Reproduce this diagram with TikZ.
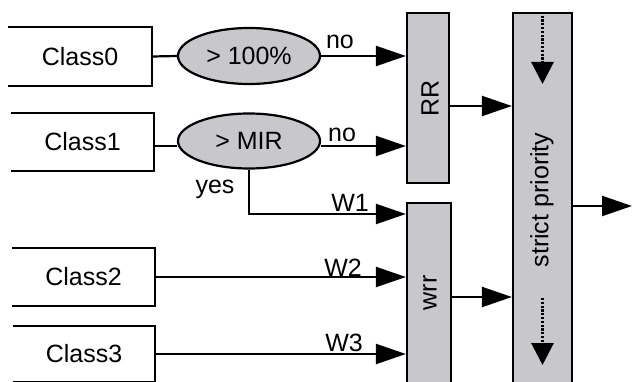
\documentclass[tikz,border=0pt]{standalone}
\usepackage{fontspec}
\setmainfont{Liberation Sans}
\usetikzlibrary{arrows.meta,shapes.geometric}
\definecolor{boxgray}{RGB}{200,199,204}
\begin{document}
\begin{tikzpicture}[x=1pt,y=-1pt,
  every node/.style={font=\fontsize{25}{29}\selectfont, inner sep=0pt},
  line/.style={line width=2.2pt},
  arr/.style={line width=2.2pt, -{Triangle[length=30pt,width=20pt]}},
  dotarr/.style={line width=3pt, dash pattern=on 2.2pt off 1.6pt, -{Triangle[length=22pt,width=22pt]}},
  cls/.style={minimum height=58pt},
  cond/.style={ellipse, draw, fill=boxgray, line width=2.2pt, minimum width=142pt, minimum height=56pt},
  grbox/.style={draw, fill=boxgray, line width=2.2pt}
]
\useasboundingbox (0,0) rectangle (632,382);
\clip (0,0) rectangle (632,382);
% class boxes (open on the left)
\node[cls, minimum width=144pt] (c0) at (80,56.5) {Class0};
\node[cls, minimum width=143pt] (c1) at (82.5,142) {Class1};
\node[cls, minimum width=143pt] (c2) at (83.5,277) {Class2};
\node[cls, minimum width=142pt, minimum height=56pt] (c3) at (84,354) {Class3};
\foreach \c in {c0,c1,c2,c3}
  \draw[line] (\c.north west) -- (\c.north east) -- (\c.south east) -- (\c.south west);
% conditions
\node[cond] (e0) at (249,56) {> 100\%};
\node[cond, minimum height=55pt] (e1) at (249,141) {> MIR};
% schedulers
\node[grbox, minimum width=42pt, minimum height=170pt] (rr) at (428,98) {};
\node[rotate=90] (rrt) at (430,98) {RR};
\node[grbox, minimum width=44pt, minimum height=197pt] (wrr) at (429,301.5) {};
\node[rotate=90] (wrrt) at (430,293) {wrr};
\node[grbox, minimum width=59pt, minimum height=387pt] (sp) at (542.5,206.5) {};
\node[rotate=90] (spt) at (542,200) {strict priority};
% helper coordinates
\coordinate (y1) at (0,214);
\coordinate (y106) at (0,106);
\coordinate (y146) at (0,146);
\coordinate (y297) at (0,297);
\coordinate (out) at (632,206);
\coordinate (d1) at (542.5,84);
\coordinate (d2a) at (542.5,298);
\coordinate (d2b) at (542.5,365);
% connectors
\draw[line] (c0.east) -- (e0.west);
\draw[line] (c1.east |- y146) -- (e1.west |- y146);
\draw[arr] (e0.east) -- (e0.east -| rr.west);
\draw[arr] (e1.east |- y146) -- (rr.west |- y146);
\draw[arr] (e1.south) |- (wrr.west |- y1);
\draw[arr] (c2.east) -- (c2.east -| wrr.west);
\draw[arr] (c3.east) -- (c3.east -| wrr.west);
\draw[arr] (rr.east |- y106) -- (sp.west |- y106);
\draw[arr] (wrr.east |- y297) -- (sp.west |- y297);
\draw[arr] (sp.east |- out) -- (out);
\draw[dotarr] (sp.north) -- (d1);
\draw[dotarr] (d2a) -- (d2b);
% labels
\node (no0) at (340,42) {no};
\node (no1) at (342,135) {no};
\node (yes) at (215,189) {yes};
\node (w1) at (350,203) {W1};
\node (w2) at (343,268) {W2};
\node (w3) at (344,343) {W3};
\end{tikzpicture}
\end{document}
